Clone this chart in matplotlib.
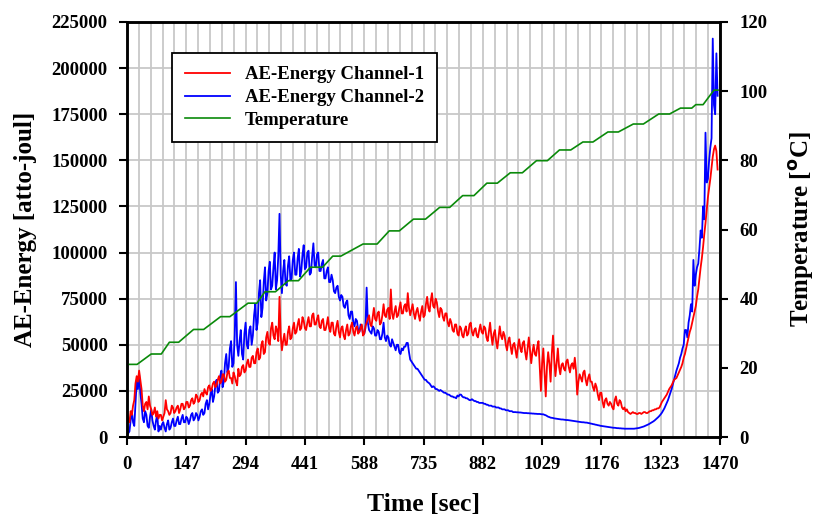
import numpy as np
import matplotlib
matplotlib.use('Agg')
import matplotlib.pyplot as plt
from matplotlib.ticker import MultipleLocator

plt.rcParams['font.family'] = ['Liberation Serif', 'DejaVu Serif']
plt.rcParams['font.weight'] = 'bold'
plt.rcParams['axes.labelweight'] = 'bold'
plt.rcParams['mathtext.default'] = 'bf'

# sampling step of the AE series (sec)
step = 3

# AE-Energy channel 1, in thousands of atto-joul, one row per 60 sec
ch1_k = [
    13, 9, 8, 14, 12, 17, 20, 29, 33, 30, 36, 31, 26, 17, 14, 18, 19, 15, 22, 17,
    15, 12, 13, 16, 11, 14, 10, 12, 12, 9, 11, 13, 20, 15, 14, 12, 13, 17, 16, 13,
    14, 16, 17, 13, 15, 18, 18, 15, 16, 19, 19, 16, 17, 20, 21, 18, 19, 23, 22, 19,
    20, 23, 24, 22, 26, 24, 23, 27, 28, 25, 26, 29, 30, 27, 28, 31, 33, 29, 30, 34,
    34, 30, 31, 35, 36, 32, 32, 29, 35, 33, 30, 28, 37, 33, 34, 38, 39, 35, 36, 40,
    42, 38, 38, 43, 44, 40, 40, 46, 48, 42, 43, 50, 52, 45, 46, 54, 57, 51, 50, 59,
    62, 55, 53, 60, 58, 52, 76, 55, 47, 52, 56, 50, 50, 57, 60, 53, 54, 59, 62, 56,
    57, 61, 64, 58, 59, 65, 63, 59, 58, 62, 65, 60, 60, 66, 67, 61, 61, 64, 66, 60,
    59, 63, 64, 58, 58, 61, 65, 59, 57, 62, 62, 56, 55, 60, 63, 57, 54, 59, 60, 55,
    53, 58, 61, 55, 56, 60, 62, 57, 55, 59, 60, 56, 57, 59, 61, 55, 56, 60, 62, 64,
    66, 61, 60, 65, 70, 64, 63, 67, 68, 61, 62, 66, 72, 66, 65, 69, 70, 64, 80, 67,
    64, 68, 71, 65, 66, 70, 73, 67, 67, 71, 72, 68, 78, 70, 66, 69, 72, 67, 64, 68,
    70, 66, 63, 68, 71, 65, 66, 72, 76, 70, 68, 74, 78, 71, 70, 75, 73, 68, 65, 70,
    69, 65, 63, 67, 67, 62, 60, 64, 62, 58, 57, 61, 61, 56, 55, 60, 59, 55, 54, 58,
    60, 55, 56, 61, 62, 57, 55, 58, 59, 55, 54, 58, 61, 57, 56, 60, 59, 54, 52, 57,
    62, 55, 50, 56, 58, 52, 48, 54, 60, 55, 53, 57, 55, 50, 47, 52, 54, 49, 45, 50,
    51, 47, 43, 49, 53, 48, 46, 51, 52, 46, 42, 48, 54, 47, 40, 46, 50, 45, 44, 49,
    52, 38, 25, 40, 48, 35, 22, 38, 46, 40, 30, 45, 55, 42, 33, 40, 48, 38, 34, 39,
    40, 37, 36, 41, 42, 38, 35, 39, 40, 37, 43, 36, 23, 30, 34, 32, 30, 35, 36, 31,
    28, 32, 34, 30, 30, 27, 25, 29, 27, 23, 20, 24, 24, 19, 16, 20, 21, 18, 17, 19,
    18, 16, 15, 20, 22, 18, 17, 20, 19, 16, 15, 16, 14, 15, 13.5, 13, 12.5, 13, 13.5, 13,
    13, 12.5, 12.5, 13, 13, 12.5, 13, 13.5, 13.5, 13, 13, 13.5, 14, 14, 14.5, 14.5, 15, 15, 15.5, 15.5,
    16, 17.5, 19, 20, 21, 22, 23, 24.5, 26, 27, 28, 29.5, 31, 31.5, 32, 33.5, 35, 36.5, 38, 40,
    43, 45, 48, 51, 54, 57, 59, 62, 65, 68, 71, 76, 80, 86, 92, 97, 103, 110, 116, 123,
    130, 135, 140, 146, 152, 156, 158, 155, 145,
]

# AE-Energy channel 2, in thousands of atto-joul, one row per 60 sec
ch2_k = [
    1, 2, 3, 9, 14, 8, 6, 18, 30, 26, 34, 24, 18, 10, 8, 14, 12, 6, 5, 11,
    15, 9, 6, 4, 9, 12, 3, 6, 4, 7, 8, 5, 3, 7, 9, 4, 5, 8, 10, 6,
    6, 9, 11, 7, 7, 10, 12, 8, 8, 11, 10, 7, 9, 12, 13, 9, 10, 13, 12, 9,
    11, 14, 15, 12, 13, 18, 20, 15, 18, 23, 26, 19, 22, 28, 31, 24, 25, 33, 36, 27,
    30, 40, 45, 35, 38, 48, 52, 38, 40, 55, 84, 50, 44, 52, 58, 45, 42, 56, 62, 50,
    48, 58, 60, 50, 55, 66, 72, 58, 62, 78, 85, 65, 70, 84, 92, 74, 78, 90, 95, 80,
    82, 92, 100, 80, 85, 98, 121, 88, 78, 90, 96, 83, 82, 93, 98, 85, 86, 96, 100, 88,
    88, 97, 102, 87, 90, 99, 104, 91, 92, 100, 101, 88, 89, 98, 105, 93, 92, 99, 100, 90,
    90, 94, 96, 86, 86, 90, 92, 84, 84, 88, 85, 79, 78, 81, 82, 76, 74, 77, 76, 71,
    70, 73, 74, 66, 64, 68, 68, 62, 60, 64, 63, 58, 57, 61, 60, 56, 56, 59, 81, 62,
    58, 57, 56, 60, 59, 55, 55, 58, 57, 53, 53, 56, 62, 54, 52, 55, 54, 50, 49, 53,
    51, 49, 47, 50, 50, 46, 45, 48, 47, 49, 49, 51, 51, 46, 42, 41, 40, 39, 38, 37,
    37, 36, 35, 34, 33, 32, 31, 31, 30, 29.5, 29, 28, 27, 27.5, 27, 26, 26, 25.5, 25, 25.5,
    25, 24.5, 24, 24, 23.5, 23, 23, 22.5, 22, 22, 21.5, 21.5, 21, 22.5, 22, 23, 23, 22, 21.5, 21.5,
    21, 21, 20.5, 20, 20, 20.5, 20, 19.5, 19.5, 19, 19, 18.5, 18.5, 18.5, 18.5, 18, 18, 17.5, 17.5, 17,
    17, 17, 16.5, 16.5, 16.5, 16, 16, 16, 15.5, 15.5, 15, 15, 15, 14.5, 14.5, 14.5, 14, 14, 14, 13.5,
    13.5, 13.5, 13.4, 13.4, 13.3, 13.3, 13.2, 13.1, 13, 13, 13, 12.9, 12.9, 12.8, 12.8, 12.7, 12.7, 12.6, 12.6, 12.5,
    12.5, 12.5, 12.4, 12.3, 12.3, 12, 11.8, 11.4, 11, 10.8, 10.5, 10.4, 10.3, 10.1, 10, 9.9, 9.8, 9.7, 9.6, 9.5,
    9.5, 9.4, 9.3, 9.2, 9.2, 9.1, 9, 8.9, 8.8, 8.7, 8.6, 8.5, 8.4, 8.3, 8.2, 8.1, 8, 8, 7.9, 7.8,
    7.8, 7.6, 7.5, 7.3, 7.2, 7, 6.9, 6.7, 6.6, 6.4, 6.3, 6.1, 6, 5.9, 5.8, 5.7, 5.6, 5.5, 5.4, 5.3,
    5.2, 5.1, 5, 5, 4.9, 4.8, 4.8, 4.7, 4.7, 4.6, 4.6, 4.5, 4.5, 4.5, 4.5, 4.5, 4.5, 4.5, 4.5, 4.5,
    4.6, 4.7, 4.8, 4.9, 5.1, 5.3, 5.5, 5.7, 6, 6.3, 6.6, 6.9, 7.3, 7.7, 8.1, 8.5, 9, 9.6, 10.2, 10.8,
    11.5, 12.3, 13.2, 14.3, 15.5, 17, 18.5, 20, 22, 24, 26, 28.5, 31, 33.5, 36, 38, 40, 43, 45, 48,
    50, 58, 58, 54, 62, 66, 72, 68, 96, 82, 88, 92, 94, 102, 112, 108, 125, 118, 165, 138,
    140, 150, 157, 162, 216, 180, 175, 208, 185,
]

# Temperature (deg C)
t_temp = [0, 25, 60, 85, 105, 128, 165, 190, 232, 255, 300, 322, 342, 368,
          400, 425, 455, 485, 510, 530, 585, 620, 650, 675, 710, 740, 775,
          800, 832, 860, 892, 918, 950, 980, 1015, 1042, 1072, 1100, 1130,
          1155, 1192, 1218, 1255, 1280, 1318, 1345, 1372, 1400, 1410, 1428,
          1455, 1465]
temp = [21.0, 21.0, 24.0, 24.0, 27.4, 27.4, 31.1, 31.1, 34.8, 34.8, 38.7,
        38.7, 42.0, 42.0, 45.2, 45.2, 49.1, 49.1, 52.3, 52.3, 55.8, 55.8,
        59.6, 59.6, 63.0, 63.0, 66.4, 66.4, 69.8, 69.8, 73.4, 73.4, 76.4,
        76.4, 79.9, 79.9, 83.0, 83.0, 85.3, 85.3, 88.2, 88.2, 90.5, 90.5,
        93.4, 93.4, 95.1, 95.1, 96.1, 96.1, 100.3, 100.3]

x_ticks = [0, 147, 294, 441, 588, 735, 882, 1029, 1176, 1323, 1470]
e_ticks = [0, 25000, 50000, 75000, 100000, 125000, 150000, 175000, 200000, 225000]
t_ticks = [0, 20, 40, 60, 80, 100, 120]

t1 = np.arange(len(ch1_k)) * step
t2 = np.arange(len(ch2_k)) * step
ch1 = np.array(ch1_k) * 1000
ch2 = np.array(ch2_k) * 1000

fig = plt.figure(figsize=(8.21, 5.20), dpi=100)
ax = fig.add_axes([0.1547, 0.1596, 0.7223, 0.7981])

l2, = ax.plot(t2, ch2, color='#0000ff', lw=1.3, label='AE-Energy Channel-2')
l1, = ax.plot(t1, ch1, color='#ff0000', lw=1.3, label='AE-Energy Channel-1')

ax.set_xlim(0, 1470)
ax.set_ylim(0, 225000)
ax.set_xticks(x_ticks)
ax.set_xticklabels([str(v) for v in x_ticks])
ax.xaxis.set_minor_locator(MultipleLocator(29.4))
ax.set_yticks(e_ticks)
ax.set_yticklabels([str(v) for v in e_ticks])
ax.grid(True, which='both', axis='x', color='#c8c8c8', lw=1.3)
ax.grid(True, which='major', axis='y', color='#c8c8c8', lw=1.3)
ax.set_axisbelow(True)
ax.tick_params(axis='both', which='major', labelsize=13.5, length=6, width=1.5,
               direction='out', pad=8)
ax.tick_params(axis='x', which='minor', length=0)
for s in ax.spines.values():
    s.set_linewidth(1.8)

ax.set_xlabel('Time [sec]', fontsize=18.5, labelpad=14)
ax.set_ylabel('AE-Energy [atto-joul]', fontsize=18, labelpad=10)

ax2 = ax.twinx()
l3, = ax2.plot(t_temp, temp, color='#0a8a0a', lw=1.2, label='Temperature')
ax2.set_ylim(0, 120)
ax2.set_yticks(t_ticks)
ax2.tick_params(axis='y', labelsize=13.5, length=6, width=1.5, direction='out', pad=8)
for s in ax2.spines.values():
    s.set_linewidth(1.8)
ax2.set_ylabel('Temperature [$^{o}$C]', fontsize=18, labelpad=14)

leg = ax2.legend(handles=[l1, l2, l3], loc='upper left',
                 bbox_to_anchor=(0.0759, 0.925), borderaxespad=0,
                 fontsize=13.5, frameon=True, fancybox=False, framealpha=1,
                 edgecolor='black', handlelength=2.4, labelspacing=0.3,
                 borderpad=0.7, handletextpad=0.8)
leg.get_frame().set_linewidth(1.3)

fig.savefig('out.png', dpi=100)
